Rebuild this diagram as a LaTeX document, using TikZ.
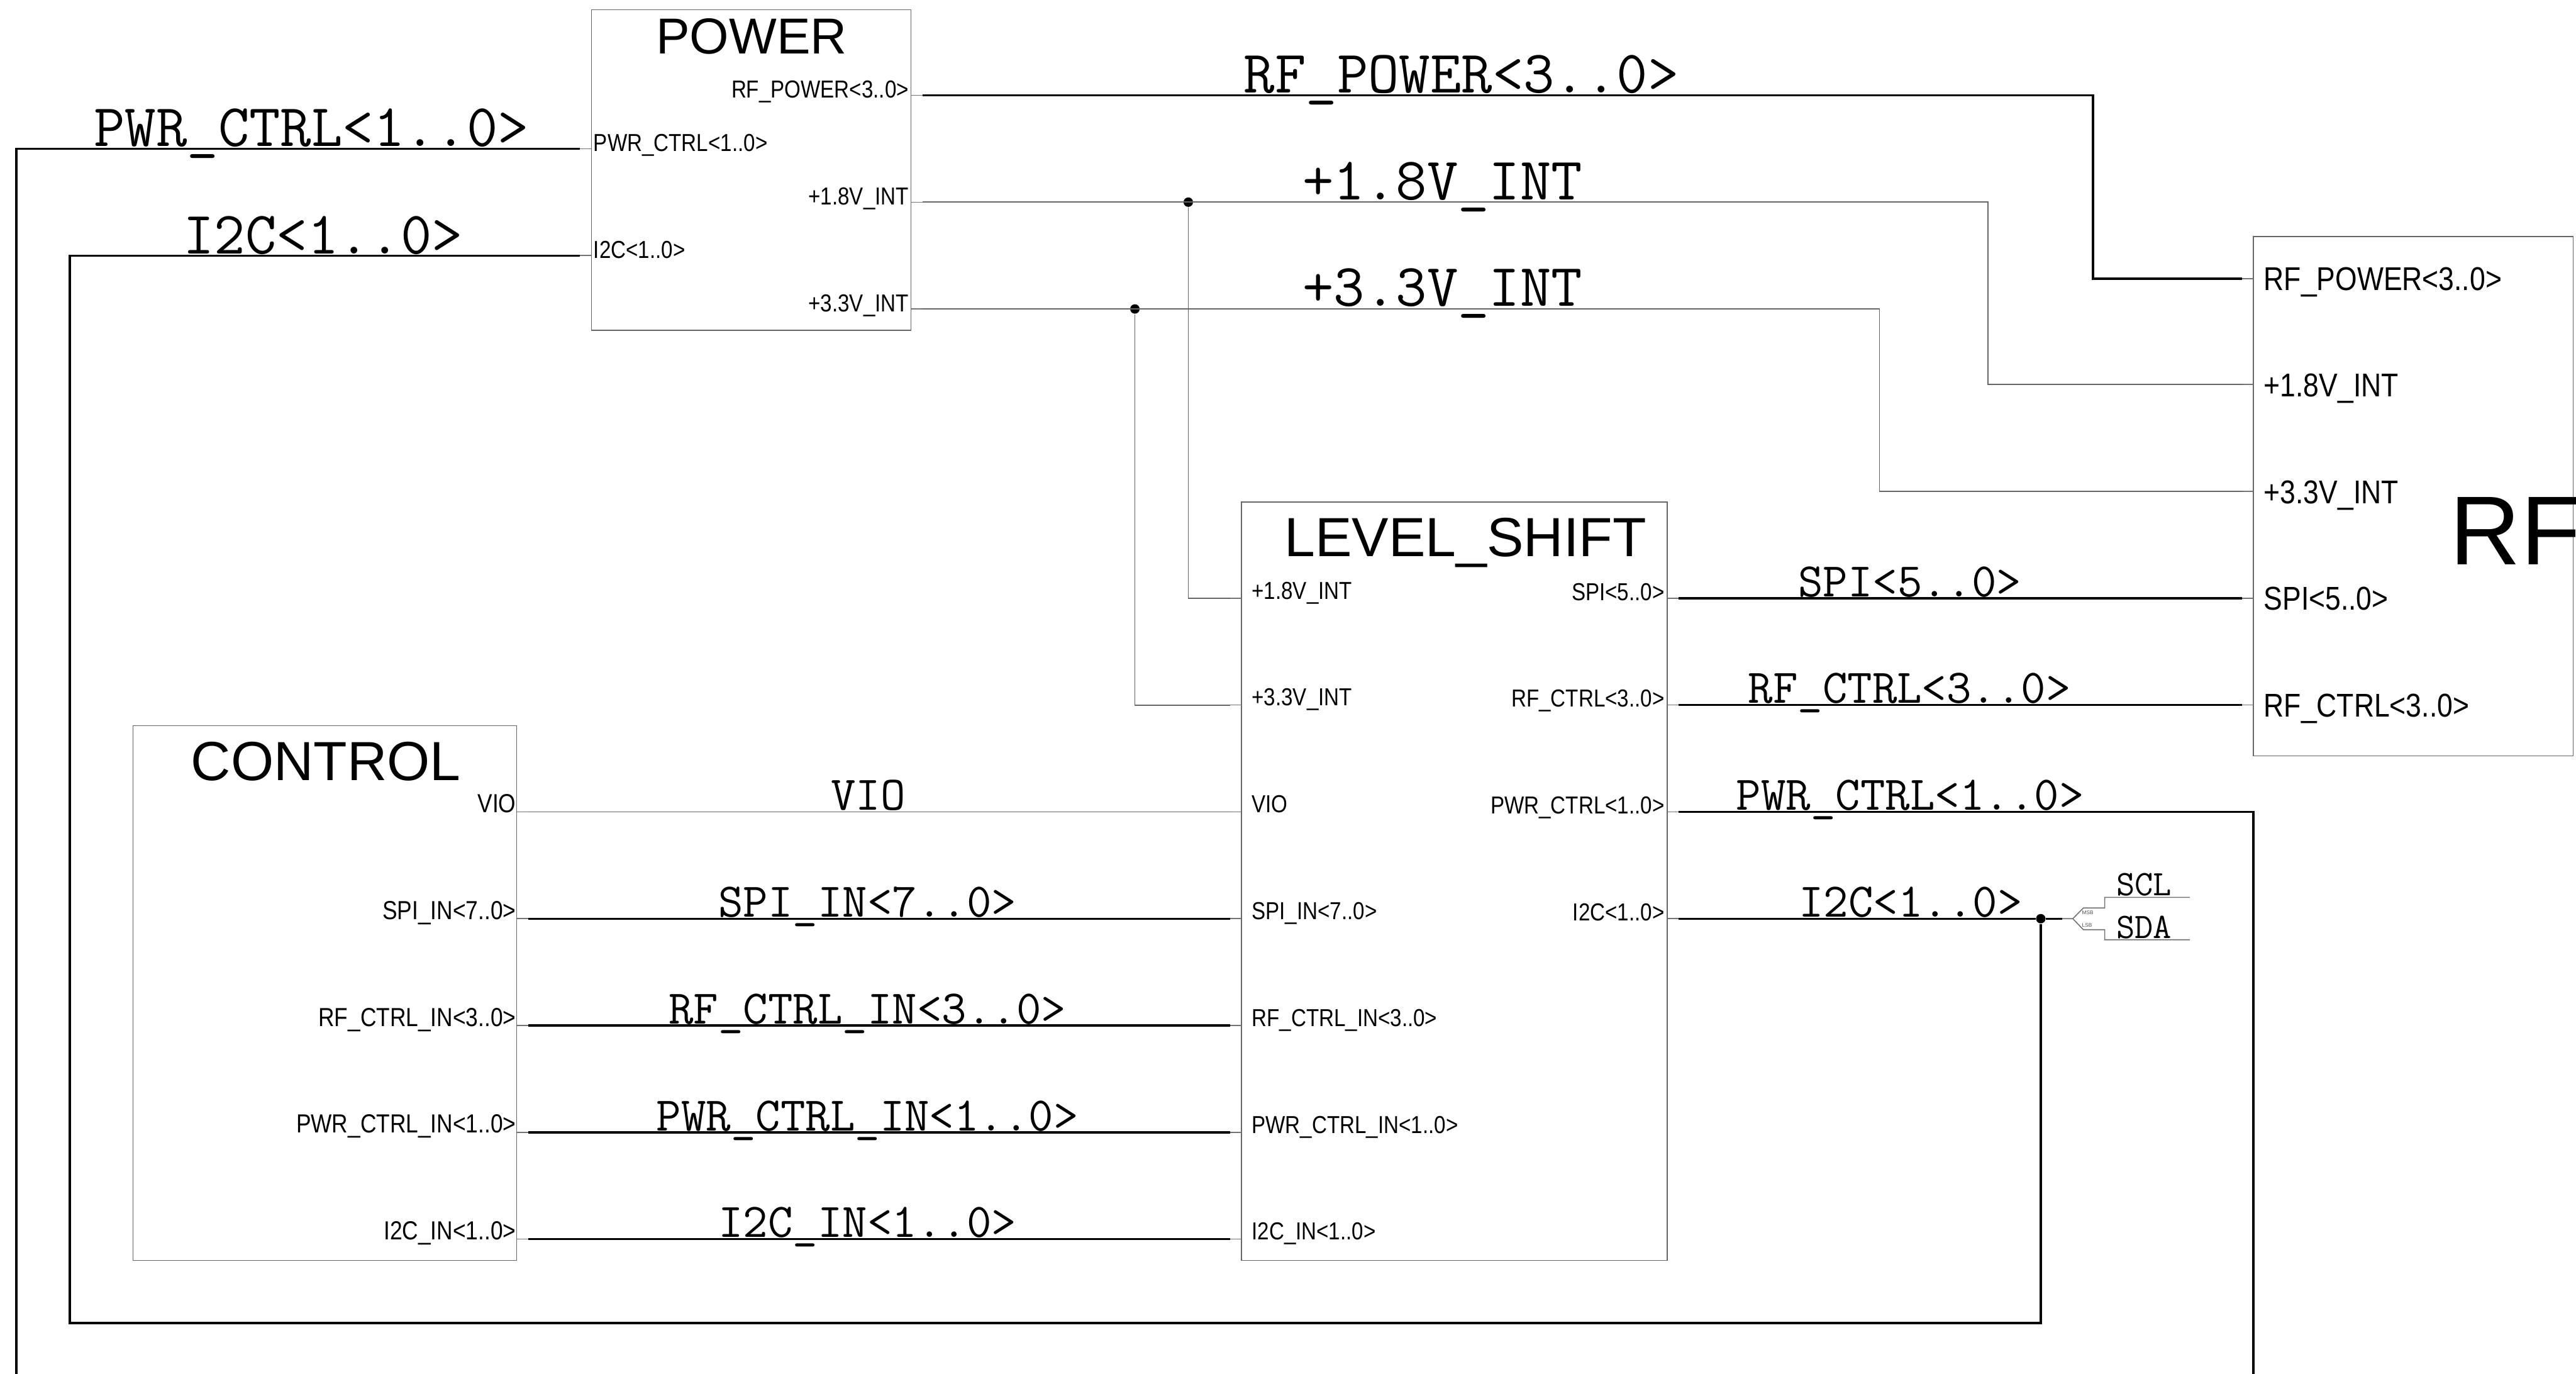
\documentclass[tikz,border=0pt]{standalone}
\usepackage{fontspec}
\setsansfont{Liberation Sans}
\newfontfamily\pinfont[FakeStretch=0.85]{Liberation Sans}
\usetikzlibrary{positioning}

\tikzset{
  block/.style={draw=black!60, line width=0.35pt, rectangle, inner sep=0pt, outer sep=0pt, anchor=north west},
  title/.style={font=\sffamily\fontsize{19.1}{21}\selectfont, anchor=base, inner sep=0pt},
  pinlbl/.style={font=\pinfont\fontsize{8.5}{9}\selectfont, inner sep=0pt},
  pin/.style={draw=black!55, line width=0.35pt},
  bus/.style={draw=black, line width=0.75pt},
  net/.style={draw=black!60, line width=0.4pt},
  netlbl/.style={font=\ttfamily\fontsize{20.9}{22}\selectfont, anchor=base, inner sep=0pt},
  sublbl/.style={font=\ttfamily\fontsize{16.7}{18}\selectfont, anchor=base, inner sep=0pt},
  junction/.style={circle, fill=black, inner sep=0pt, minimum size=1.15mm}
}

\begin{document}
\begin{tikzpicture}[x=0.02cm, y=-0.02cm]
  \useasboundingbox (0,0) rectangle (1568,836);

  % Blocks
  \node[block, minimum width=3.892cm, minimum height=3.9cm] (power) at (360,6) {};
  \node[block, minimum width=5.184cm, minimum height=9.23cm] (lshift) at (755.6,305.5) {};
  \node[block, minimum width=4.67cm, minimum height=6.508cm] (control) at (81,441.6) {};
  \node[block, minimum width=3.892cm, minimum height=6.32cm] (rf) at (1371.7,144) {};

  \node[title, font=\sffamily\fontsize{17.5}{19}\selectfont] (power-t) at (457.5,32.8) {POWER};
  \node[title] (lshift-t) at (892,338.5) {LEVEL\_SHIFT};
  \node[title] (control-t) at (198.3,474.7) {CONTROL};
  \node[title, anchor=base west, font=\sffamily\fontsize{33.9}{36}\selectfont] (rf-t) at (1491,343.6) {RF};

  % POWER pins
  \draw[pin] (554.6,58) coordinate (pw-rfpow) -- ++(7,0) coordinate (pw-rfpow-o);
  \draw[pin] (554.6,123) coordinate (pw-v18) -- ++(7,0) coordinate (pw-v18-o);
  \draw[pin] (554.6,188) coordinate (pw-v33) -- ++(7,0) coordinate (pw-v33-o);
  \draw[pin] (360,90.5) coordinate (pw-pwrctl) -- ++(-7,0) coordinate (pw-pwrctl-o);
  \draw[pin] (360,155.5) coordinate (pw-i2c) -- ++(-7,0) coordinate (pw-i2c-o);
  \node[pinlbl, anchor=base east] (pw-rfpow-t) at (553.5,59.7) {RF\_POWER<3..0>};
  \node[pinlbl, anchor=base west] (pw-pwrctl-t) at (361,92.2) {PWR\_CTRL<1..0>};
  \node[pinlbl, anchor=base east] (pw-v18-t) at (553.5,124.7) {+1.8V\_INT};
  \node[pinlbl, anchor=base west] (pw-i2c-t) at (361,157.2) {I2C<1..0>};
  \node[pinlbl, anchor=base east] (pw-v33-t) at (553.5,189.7) {+3.3V\_INT};

  % LEVEL_SHIFT pins
  \draw[pin] (755.6,364) coordinate (ls-v18) -- ++(-7,0) coordinate (ls-v18-o);
  \draw[pin] (755.6,429) coordinate (ls-v33) -- ++(-7,0) coordinate (ls-v33-o);
  \draw[pin] (755.6,494) coordinate (ls-vio) -- ++(-7,0) coordinate (ls-vio-o);
  \draw[pin] (755.6,559) coordinate (ls-spiin) -- ++(-7,0) coordinate (ls-spiin-o);
  \draw[pin] (755.6,624) coordinate (ls-rfctlin) -- ++(-7,0) coordinate (ls-rfctlin-o);
  \draw[pin] (755.6,689) coordinate (ls-pwrin) -- ++(-7,0) coordinate (ls-pwrin-o);
  \draw[pin] (755.6,754) coordinate (ls-i2cin) -- ++(-7,0) coordinate (ls-i2cin-o);
  \draw[pin] (1014.8,364) coordinate (ls-spi) -- ++(7,0) coordinate (ls-spi-o);
  \draw[pin] (1014.8,429) coordinate (ls-rfctl) -- ++(7,0) coordinate (ls-rfctl-o);
  \draw[pin] (1014.8,494) coordinate (ls-pwrctl) -- ++(7,0) coordinate (ls-pwrctl-o);
  \draw[pin] (1014.8,559) coordinate (ls-i2c) -- ++(7,0) coordinate (ls-i2c-o);
  \node[pinlbl, anchor=base west] (ls-v18-t) at (761.6,364.5) {+1.8V\_INT};
  \node[pinlbl, anchor=base west] (ls-v33-t) at (761.6,429.5) {+3.3V\_INT};
  \node[pinlbl, anchor=base west] (ls-vio-t) at (761.6,494.5) {VIO};
  \node[pinlbl, anchor=base west] (ls-spiin-t) at (761.6,559.5) {SPI\_IN<7..0>};
  \node[pinlbl, anchor=base west] (ls-rfctlin-t) at (761.6,624.5) {RF\_CTRL\_IN<3..0>};
  \node[pinlbl, anchor=base west] (ls-pwrin-t) at (761.6,689.5) {PWR\_CTRL\_IN<1..0>};
  \node[pinlbl, anchor=base west] (ls-i2cin-t) at (761.6,754.5) {I2C\_IN<1..0>};
  \node[pinlbl, anchor=base east] (ls-spi-t) at (1013.5,365.2) {SPI<5..0>};
  \node[pinlbl, anchor=base east] (ls-rfctl-t) at (1013.5,430.2) {RF\_CTRL<3..0>};
  \node[pinlbl, anchor=base east] (ls-pwrctl-t) at (1013.5,495.2) {PWR\_CTRL<1..0>};
  \node[pinlbl, anchor=base east] (ls-i2c-t) at (1013.5,560.2) {I2C<1..0>};

  % CONTROL pins
  \draw[pin] (314.5,494) coordinate (ct-vio) -- ++(7,0) coordinate (ct-vio-o);
  \draw[pin] (314.5,559) coordinate (ct-spiin) -- ++(7,0) coordinate (ct-spiin-o);
  \draw[pin] (314.5,624) coordinate (ct-rfctlin) -- ++(7,0) coordinate (ct-rfctlin-o);
  \draw[pin] (314.5,689) coordinate (ct-pwrin) -- ++(7,0) coordinate (ct-pwrin-o);
  \draw[pin] (314.5,754) coordinate (ct-i2cin) -- ++(7,0) coordinate (ct-i2cin-o);
  \node[pinlbl, anchor=base east, font=\pinfont\fontsize{9.05}{10}\selectfont] (ct-vio-t) at (314.4,494.4) {VIO};
  \node[pinlbl, anchor=base east, font=\pinfont\fontsize{9.05}{10}\selectfont] (ct-spiin-t) at (314.4,559.4) {SPI\_IN<7..0>};
  \node[pinlbl, anchor=base east, font=\pinfont\fontsize{9.05}{10}\selectfont] (ct-rfctlin-t) at (314.4,624.4) {RF\_CTRL\_IN<3..0>};
  \node[pinlbl, anchor=base east, font=\pinfont\fontsize{9.05}{10}\selectfont] (ct-pwrin-t) at (314.4,689.4) {PWR\_CTRL\_IN<1..0>};
  \node[pinlbl, anchor=base east, font=\pinfont\fontsize{9.05}{10}\selectfont] (ct-i2cin-t) at (314.4,754.4) {I2C\_IN<1..0>};

  % RF pins
  \draw[pin] (1371.7,169.5) coordinate (rf-rfpow) -- ++(-7,0) coordinate (rf-rfpow-o);
  \draw[pin] (1371.7,234) coordinate (rf-v18) -- ++(-7,0) coordinate (rf-v18-o);
  \draw[pin] (1371.7,299) coordinate (rf-v33) -- ++(-7,0) coordinate (rf-v33-o);
  \draw[pin] (1371.7,364) coordinate (rf-spi) -- ++(-7,0) coordinate (rf-spi-o);
  \draw[pin] (1371.7,429) coordinate (rf-rfctl) -- ++(-7,0) coordinate (rf-rfctl-o);
  \node[pinlbl, anchor=base west, font=\pinfont\fontsize{11.4}{12}\selectfont] (rf-rfpow-t) at (1377.7,176.8) {RF\_POWER<3..0>};
  \node[pinlbl, anchor=base west, font=\pinfont\fontsize{11.4}{12}\selectfont] (rf-v18-t) at (1377.7,241.3) {+1.8V\_INT};
  \node[pinlbl, anchor=base west, font=\pinfont\fontsize{11.4}{12}\selectfont] (rf-v33-t) at (1377.7,306.3) {+3.3V\_INT};
  \node[pinlbl, anchor=base west, font=\pinfont\fontsize{11.4}{12}\selectfont] (rf-spi-t) at (1377.7,371.3) {SPI<5..0>};
  \node[pinlbl, anchor=base west, font=\pinfont\fontsize{11.4}{12}\selectfont] (rf-rfctl-t) at (1377.7,436.3) {RF\_CTRL<3..0>};

  % Junctions and free ends
  \node[junction] (j18) at (723.3,123) {};
  \node[junction] (j33) at (690.8,188) {};
  \node[junction] (i2c-dot) at (1242.2,559) {};
  \coordinate (pwrctl-end) at (10,836);
  \coordinate (pwrctl-end2) at (1371.6,836);
  \coordinate (rip-in) at (1255.2,559);
  \coordinate (rip) at (1261.7,559);
  \coordinate (scl-end) at (1333,546);
  \coordinate (sda-end) at (1333,571.8);

  % Wires from POWER
  \draw[bus] (pw-pwrctl-o) -| (pwrctl-end);
  \draw[bus] (pw-i2c-o) -| (42.5,805) -| (i2c-dot);
  \draw[bus] (pw-rfpow-o) -| (1274,114) |- (rf-rfpow-o);
  \draw[net] (pw-v18-o) -| (1210,180) |- (rf-v18-o);
  \draw[net] (pw-v33-o) -| (1144,240) |- (rf-v33-o);
  \draw[net] (j18) |- (ls-v18-o);
  \draw[net] (j33) |- (ls-v33-o);

  % CONTROL to LEVEL_SHIFT
  \draw[net] (ct-vio-o) -- (ls-vio-o);
  \draw[bus] (ct-spiin-o) -- (ls-spiin-o);
  \draw[bus] (ct-rfctlin-o) -- (ls-rfctlin-o);
  \draw[bus] (ct-pwrin-o) -- (ls-pwrin-o);
  \draw[bus] (ct-i2cin-o) -- (ls-i2cin-o);

  % LEVEL_SHIFT outputs
  \draw[bus] (ls-spi-o) -- (rf-spi-o);
  \draw[bus] (ls-rfctl-o) -- (rf-rfctl-o);
  \draw[bus] (ls-pwrctl-o) -| (pwrctl-end2);
  \draw[bus] (ls-i2c-o) -- (i2c-dot) -- (rip-in);

  % I2C ripper
  \draw[pin] (rip-in) -- (rip) -- (1268.1,552.5) -- (1281.1,552.5) |- (scl-end);
  \draw[pin] (rip) -- (1268.1,565.7) -- (1281.1,565.7) |- (sda-end);
  \node[font=\sffamily\fontsize{1.8}{2}\selectfont, anchor=west, inner sep=0pt, text=black!70] (msb) at (1267,555.5) {MSB};
  \node[font=\sffamily\fontsize{1.8}{2}\selectfont, anchor=west, inner sep=0pt, text=black!70] (lsb) at (1267,562.9) {LSB};

  % Net names
  \node[netlbl] (n-pwrctl) at (189.6,89) {PWR\_CTRL<1..0>};
  \node[netlbl] (n-i2c) at (196.7,154.4) {I2C<1..0>};
  \node[netlbl] (n-rfpow) at (889.5,56.5) {RF\_POWER<3..0>};
  \node[netlbl] (n-v18) at (878.1,121.5) {+1.8V\_INT};
  \node[netlbl] (n-v33) at (878.1,186.3) {+3.3V\_INT};
  \node[sublbl] (n-spi) at (1162.5,362.9) {SPI<5..0>};
  \node[sublbl] (n-rfctl) at (1162.3,427.9) {RF\_CTRL<3..0>};
  \node[sublbl] (n-pwrctl2) at (1162.7,492.9) {PWR\_CTRL<1..0>};
  \node[sublbl] (n-i2c2) at (1163,557.9) {I2C<1..0>};
  \node[sublbl] (n-vio) at (528.5,492.9) {VIO};
  \node[sublbl] (n-spiin) at (528,557.9) {SPI\_IN<7..0>};
  \node[sublbl] (n-rfctlin) at (528,622.9) {RF\_CTRL\_IN<3..0>};
  \node[sublbl] (n-pwrin) at (528,687.9) {PWR\_CTRL\_IN<1..0>};
  \node[sublbl] (n-i2cin) at (528,752.9) {I2C\_IN<1..0>};
  \node[sublbl, font=\ttfamily\fontsize{12.4}{14}\selectfont] (n-scl) at (1305,544.8) {SCL};
  \node[sublbl, font=\ttfamily\fontsize{12.4}{14}\selectfont] (n-sda) at (1305,570.8) {SDA};
\end{tikzpicture}
\end{document}
